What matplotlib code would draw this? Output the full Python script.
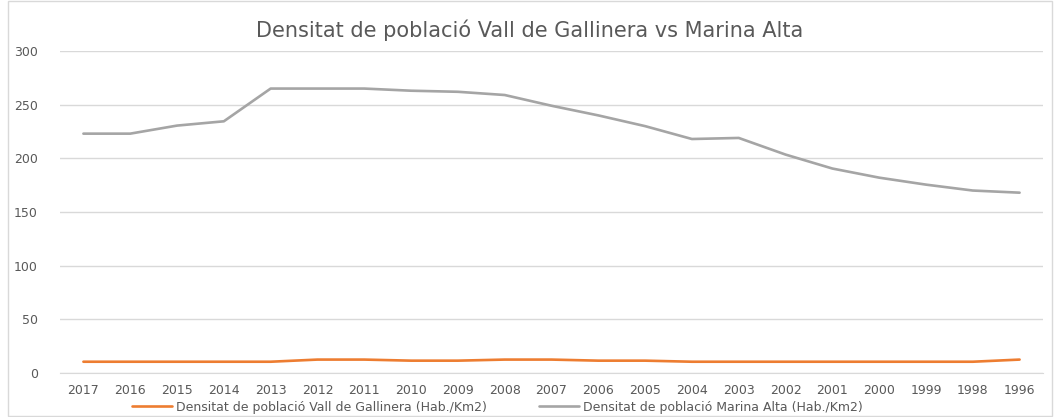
import matplotlib.pyplot as plt
from matplotlib.patches import Rectangle

# Dades (llegides del gràfic original)
anys = ["2017", "2016", "2015", "2014", "2013", "2012", "2011", "2010", "2009", "2008", "2007",
        "2006", "2005", "2004", "2003", "2002", "2001", "2000", "1999", "1998", "1996"]
vall_gallinera = [10.5, 10.5, 10.5, 10.5, 10.5, 12.5, 12.5, 11.5, 11.5, 12.5, 12.5,
                  11.5, 11.5, 10.5, 10.5, 10.5, 10.5, 10.5, 10.5, 10.5, 12.5]
marina_alta = [223, 223, 230.5, 234.5, 265, 265, 265, 263, 262, 259, 249,
               240, 230, 218, 219, 203.5, 190.5, 182, 175.5, 170, 168]

nom_vall = "Densitat de població Vall de Gallinera (Hab./Km2)"
nom_marina = "Densitat de població Marina Alta (Hab./Km2)"

gris_text = "#595959"
gris_grid = "#d9d9d9"

fig = plt.figure(figsize=(10.6, 4.17), dpi=100)
ax = fig.add_axes([60 / 1060, 1 - 373 / 417, (1043 - 60) / 1060, (373 - 51) / 417])

x = range(len(anys))
ax.plot(x, vall_gallinera, color="#ed7d31", lw=1.9, label=nom_vall, solid_capstyle="round")
ax.plot(x, marina_alta, color="#a5a5a5", lw=1.9, label=nom_marina, solid_capstyle="round")

ax.set_xlim(-0.5, len(anys) - 0.5)
ax.set_ylim(0, 300)
ax.set_yticks(range(0, 301, 50))
ax.set_xticks(list(x))
ax.set_xticklabels(anys)
ax.grid(axis="y", color=gris_grid, lw=1)
ax.set_axisbelow(True)
for s in ["top", "right", "left"]:
    ax.spines[s].set_visible(False)
ax.spines["bottom"].set_color(gris_grid)
ax.tick_params(axis="both", length=0, colors=gris_text, labelsize=9)
ax.tick_params(axis="y", pad=16)
ax.tick_params(axis="x", pad=8)

fig.text(0.5, 1 - 30 / 417, "Densitat de població Vall de Gallinera vs Marina Alta",
         ha="center", va="center", fontsize=15, color=gris_text)

fig.legend(loc="center", bbox_to_anchor=(0.469, 1 - 407 / 417), ncol=2, frameon=False,
           fontsize=9, labelcolor=gris_text, handlelength=3.2, handletextpad=0.3,
           columnspacing=4.2)

# vora del gràfic
fig.patches.append(Rectangle((8 / 1060, 0.002), 1 - 16 / 1060, 0.996, transform=fig.transFigure,
                             fill=False, edgecolor=gris_grid, lw=1))

fig.savefig("out.png", dpi=100)
